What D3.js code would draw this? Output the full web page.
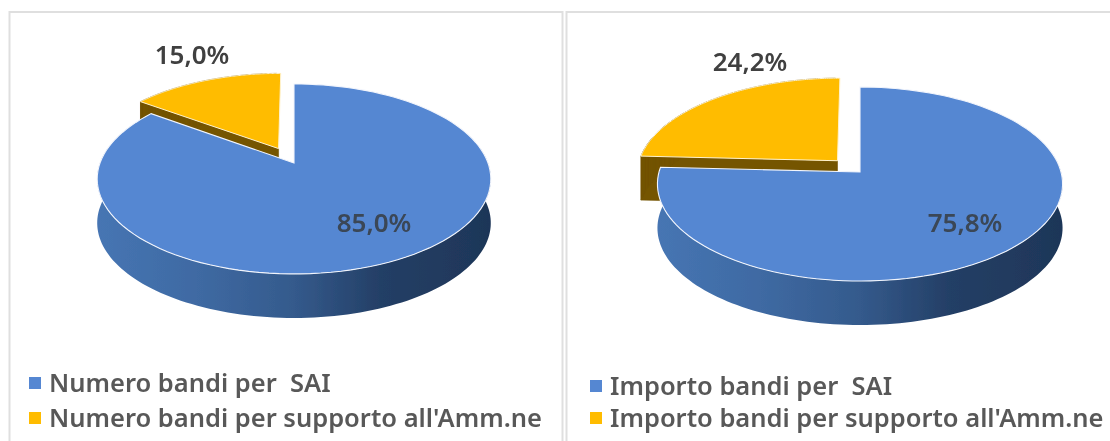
<!DOCTYPE html>
<html><head><meta charset="utf-8">
<script src="https://cdn.jsdelivr.net/npm/d3@7"></script>
<style>html,body{margin:0;padding:0;background:#fff}svg{display:block}text{font-family:"Noto Sans",sans-serif}</style>
</head><body><svg id="c" width="1110" height="441"></svg>
<script>
const categoriesLeft = ["Numero bandi per  SAI", "Numero bandi per supporto all'Amm.ne"];
const valuesLeft = [85.0, 15.0];
const labelsLeft = ["85,0%", "15,0%"];
const categoriesRight = ["Importo bandi per  SAI", "Importo bandi per supporto all'Amm.ne"];
const valuesRight = [75.8, 24.2];
const labelsRight = ["75,8%", "24,2%"];
const colorTop = ["#5587d2", "#ffbc00"];

const svg = d3.select("#c");
const defs = svg.append("defs");
const blur = defs.append("filter").attr("id","soft").attr("x","-5%").attr("y","-5%").attr("width","110%").attr("height","110%");
blur.append("feGaussianBlur").attr("stdDeviation",0.5);
const grad = defs.append("linearGradient").attr("id","wall");
[[0,"#4675b3"],[0.25,"#3f6aa3"],[0.5,"#345a8c"],[0.72,"#243f66"],[1,"#1e3658"]].forEach(([o,c])=>grad.append("stop").attr("offset",o).attr("stop-color",c));

const root = svg.append("g").attr("filter","url(#soft)");
[[9.5,12,553,440],[566.5,12,560,440]].forEach(p=>root.append("rect").attr("x",p[0]).attr("y",p[1]).attr("width",p[2]).attr("height",p[3]).attr("fill","#fff").attr("stroke","#dfdfdf").attr("stroke-width",2));

function drawChart(cfg){
  const g = root.append("g");
  const {cx,apexY,R,S,p,depth,explode,values,labels,cats} = cfg;
  const xs = d3.scaleLinear().domain([0,1]).range([cx,cx+R]);
  const ys = d3.scaleLinear().domain([0,1]).range([apexY,apexY-S]);
  const proj = (X,Y)=>{const w=1+p*Y;return [xs(X/w),ys(Y/w)];};
  const pie = d3.pie().sort(null).value(d=>d)(values);
  const line = d3.line();
  const arcPts = (a0,a1,ex,ey)=>d3.range(0,121).map(i=>{const t=a0+(a1-a0)*i/120;return proj(Math.sin(t)+ex,Math.cos(t)+ey);});
  const shift = pts=>pts.map(q=>[q[0],q[1]+depth]);

  const blue = pie[0], yel = pie[1];
  const frontStart = Math.PI/2 - 0.17, frontEnd = 3*Math.PI/2 + 0.17;
  const f = arcPts(frontStart,frontEnd,0,0);
  g.append("path").attr("d",line(f.concat(shift(f).reverse()))+"Z").attr("fill","url(#wall)");

  const mid=(yel.startAngle+yel.endAngle)/2, ex=explode*Math.sin(mid), ey=explode*Math.cos(mid);
  const yArc = arcPts(yel.startAngle,yel.endAngle,ex,ey);
  const yApex = proj(ex,ey);
  const yFace = [yApex].concat(yArc);
  const wall = g.append("g").attr("fill","#745400").attr("stroke","#745400").attr("stroke-width",0.6);
  d3.range(yFace.length-1).forEach(i=>{
    const a=yFace[i], b=yFace[i+1];
    if (i>0 && b[0]>yApex[0]-1) return;
    wall.append("path").attr("d",line([a,b,[b[0],b[1]+depth],[a[0],a[1]+depth]])+"Z");
  });
  g.append("path").attr("d",line(yFace)+"Z").attr("fill",colorTop[1]).attr("stroke","#fff3cf").attr("stroke-width",1);

  const bFace = [proj(0,0)].concat(arcPts(blue.startAngle,blue.endAngle,0,0));
  g.append("path").attr("d",line(bFace)+"Z").attr("fill",colorTop[0]).attr("stroke","#f2f5fc").attr("stroke-width",1.1);

  [cfg.l0,cfg.l1].forEach((l,i)=>g.append("text").attr("x",l[0]).attr("y",l[1]).attr("text-anchor","middle").attr("font-size",26).attr("font-weight",600).attr("fill",i===0?"#3a4656":"#404040").text(labels[i]));

  cats.forEach((c,i)=>{
    g.append("rect").attr("x",cfg.lx).attr("y",cfg.ly[i]-6).attr("width",12).attr("height",12).attr("fill",colorTop[i]);
    g.append("text").attr("x",cfg.lx+20).attr("y",cfg.ly[i]+9).attr("font-size",cfg.fs).attr("font-weight",600).attr("fill","#595959").style("white-space","pre").text(c);
  });
}
drawChart({cx:294,apexY:163,R:194,S:92.3,p:0.168,depth:44,explode:0.18,values:valuesLeft,labels:labelsLeft,cats:categoriesLeft,
  l0:[374,232],l1:[192,64],lx:29,ly:[383,418],fs:25.5});
drawChart({cx:860,apexY:172,R:201,S:95.5,p:0.124,depth:44,explode:0.165,values:valuesRight,labels:labelsRight,cats:categoriesRight,
  l0:[965,232],l1:[750,71],lx:590,ly:[386,418],fs:25.5});
</script></body></html>
